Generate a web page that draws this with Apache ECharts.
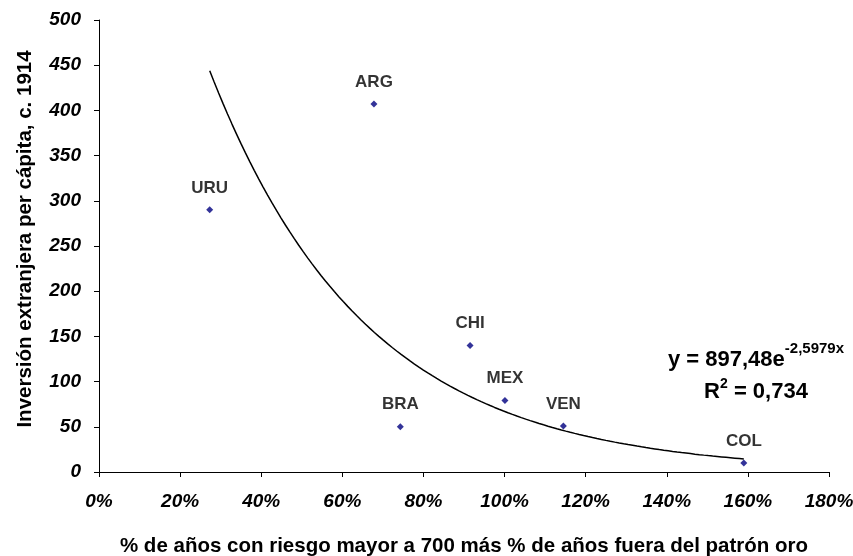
<!DOCTYPE html>
<html>
<head>
<meta charset="utf-8">
<script src="https://cdn.jsdelivr.net/npm/echarts@6/dist/echarts.min.js"></script>
<style>
html,body{margin:0;padding:0;background:#fff;}
#chart{width:853px;height:556px;}
</style>
</head>
<body>
<div id="chart"></div>
<script>
// ---- data ----
const countries = ['URU', 'ARG', 'BRA', 'CHI', 'MEX', 'VEN', 'COL'];
const riskShare = [0.273, 0.678, 0.743, 0.915, 1.001, 1.145, 1.590];   // x: share of years (fraction)
const investment = [290, 407, 50, 140, 79, 51, 10];                      // y: foreign investment per capita
const xTicks = { min: 0, max: 1.8, interval: 0.2 };
const yTicks = { min: 0, max: 500, interval: 50 };
const equationMain = 'y = 897,48e';
const equationExp = '-2,5979x';
const rSquared = '0,734';

// ---- exponential least-squares fit (as the spreadsheet trendline) ----
function expFit(xs, ys) {
  const n = xs.length;
  const ly = ys.map(v => Math.log(v));
  const mx = xs.reduce((a, b) => a + b, 0) / n;
  const my = ly.reduce((a, b) => a + b, 0) / n;
  let sxy = 0, sxx = 0;
  for (let i = 0; i < n; i++) { sxy += (xs[i] - mx) * (ly[i] - my); sxx += (xs[i] - mx) ** 2; }
  const b = sxy / sxx;
  const a = Math.exp(my - b * mx);
  return { a, b };
}
const fit = expFit(riskShare, investment);
const xLo = Math.min(...riskShare), xHi = Math.max(...riskShare);
const trend = [];
for (let i = 0; i <= 120; i++) {
  const x = xLo + (xHi - xLo) * i / 120;
  trend.push([x, fit.a * Math.exp(fit.b * x)]);
}

const font = 'Liberation Sans, Arial, sans-serif';
const chart = echarts.init(document.getElementById('chart'), null, { renderer: 'canvas' });
chart.setOption({
  animation: false,
  backgroundColor: '#ffffff',
  grid: { left: 99, right: 24, top: 20, bottom: 84, containLabel: false, outerBoundsMode: 'none' },
  xAxis: {
    type: 'value', min: xTicks.min, max: xTicks.max, interval: xTicks.interval,
    name: '% de años con riesgo mayor a 700 más % de años fuera del patrón oro',
    nameLocation: 'middle', nameGap: 64,
    nameTextStyle: { fontFamily: font, fontSize: 20.5, fontWeight: 'bold', color: '#000' },
    axisLine: { show: true, lineStyle: { color: '#000', width: 1 } },
    axisTick: { show: true, inside: false, length: 5, lineStyle: { color: '#000' } },
    axisLabel: {
      margin: 20, fontFamily: font, fontSize: 19, fontWeight: 'bold', fontStyle: 'italic', color: '#000',
      formatter: v => Math.round(v * 100) + '%'
    },
    splitLine: { show: false }
  },
  yAxis: {
    type: 'value', min: yTicks.min, max: yTicks.max, interval: yTicks.interval,
    name: 'Inversión extranjera per cápita, c. 1914',
    nameLocation: 'middle', nameGap: 63, nameRotate: 90,
    nameTextStyle: { fontFamily: font, fontSize: 20.5, fontWeight: 'bold', color: '#000', padding: [0, 0, 0, 14] },
    axisLine: { show: true, lineStyle: { color: '#000', width: 1 } },
    axisTick: { show: true, inside: false, length: 5, lineStyle: { color: '#000' } },
    axisLabel: { margin: 18, fontFamily: font, fontSize: 19, fontWeight: 'bold', fontStyle: 'italic', color: '#000' },
    splitLine: { show: false }
  },
  series: [
    {
      type: 'line', data: trend, showSymbol: false, smooth: false,
      lineStyle: { color: '#000', width: 1.5 }, silent: true, z: 1
    },
    {
      type: 'scatter', symbol: 'diamond', symbolSize: 7,
      itemStyle: { color: '#000080' },
      data: riskShare.map((x, i) => ({ value: [x, investment[i]], name: countries[i] })),
      label: {
        show: true, position: 'top', distance: 10, formatter: p => p.name,
        fontFamily: font, fontSize: 17, fontWeight: 'bold', color: '#000'
      },
      z: 3
    }
  ],
  graphic: [
    {
      type: 'text', x: 756, y: 359.5, silent: true,
      style: {
        text: '{a|' + equationMain + '}{s|' + equationExp + '}',
        align: 'center', verticalAlign: 'middle',
        rich: {
          a: { fontFamily: font, fontSize: 22, fontWeight: 'bold', color: '#000', lineHeight: 36 },
          s: { fontFamily: font, fontSize: 15, fontWeight: 'bold', color: '#000', lineHeight: 15, verticalAlign: 'top' }
        }
      }
    },
    {
      type: 'text', x: 756, y: 392, silent: true,
      style: {
        text: '{a|R}{s|2}{a| = ' + rSquared + '}',
        align: 'center', verticalAlign: 'middle',
        rich: {
          a: { fontFamily: font, fontSize: 22, fontWeight: 'bold', color: '#000', lineHeight: 30 },
          s: { fontFamily: font, fontSize: 14, fontWeight: 'bold', color: '#000', lineHeight: 18, verticalAlign: 'top' }
        }
      }
    }
  ]
});
</script>
</body>
</html>
